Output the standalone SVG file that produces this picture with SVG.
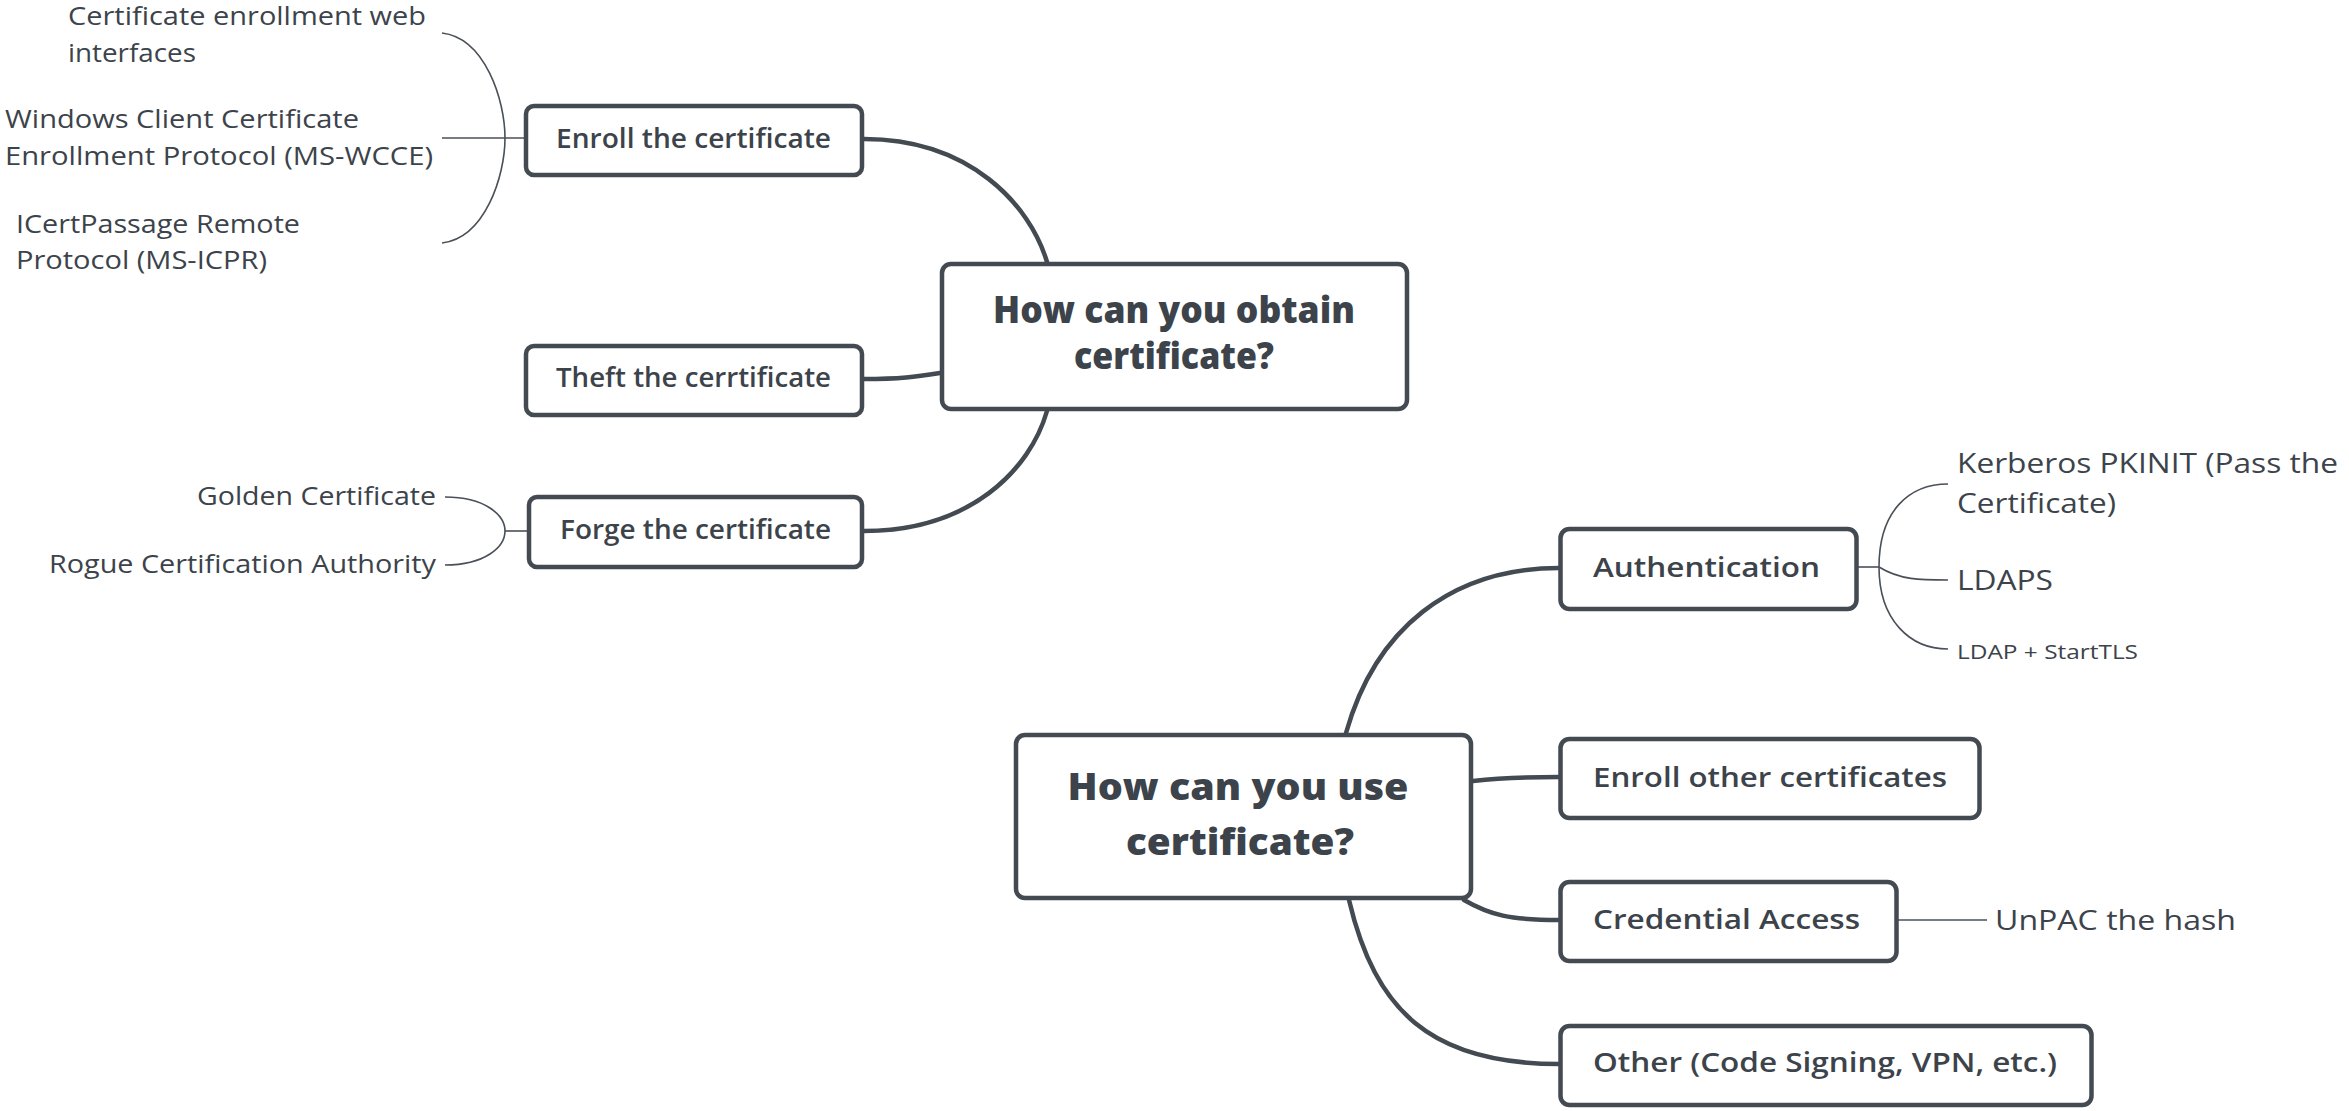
<svg xmlns="http://www.w3.org/2000/svg" width="2349" height="1111" viewBox="0 0 2349 1111">
<style>
.bg{fill:#ffffff}
.box{fill:#ffffff;stroke:#434a52;stroke-width:4.5}
.t{font-family:"Open Sans","Noto Sans","DejaVu Sans",sans-serif;fill:#3c434b}
.node{font-size:27px;font-weight:600}
.central{font-size:37px;font-weight:800}
.leaf{font-size:25px;font-weight:400}
.leafb{font-size:27px;font-weight:400}
.leafs{font-size:20px;font-weight:400}
.conn{fill:none;stroke:#434a52;stroke-width:4.5;stroke-linecap:round}
.thin{fill:none;stroke:#4a5058;stroke-width:1.6}
</style>
<rect class="bg" x="0" y="0" width="2349" height="1111"/>
<g id="connectors">
<path class="conn" d="M864,139 C970,139 1030,205 1047,262"/>
<path class="conn" d="M864,379 C900,379 915,377 940,373"/>
<path class="conn" d="M864,531 C970,531 1030,470 1047,411"/>
<path class="conn" d="M1346,733 C1375,630 1450,568 1559,568"/>
<path class="conn" d="M1473,781 C1500,778 1520,777 1559,777"/>
<path class="conn" d="M1464,900 C1490,915 1510,920 1559,920"/>
<path class="conn" d="M1349,900 C1375,1010 1430,1064 1559,1064"/>
<path class="thin" d="M442,138 L524,138"/>
<path class="thin" d="M442,33 C485,38 505,100 505,138 C505,176 485,238 442,243"/>
<path class="thin" d="M505,531 L527,531"/>
<path class="thin" d="M445,497 C485,497 505,515 505,531 C505,547 485,565 445,565"/>
<path class="thin" d="M1858,567 L1879,567"/>
<path class="thin" d="M1948,484 C1910,484 1879,510 1879,567 C1879,620 1910,649 1948,649"/>
<path class="thin" d="M1879,567 C1900,580 1920,580 1948,580"/>
<path class="thin" d="M1898,920 L1987,920"/>
</g>
<g id="node-obtain">
<rect class="box" x="942" y="264" width="465" height="145" rx="9"/>
<text class="t central" x="1174" y="323" text-anchor="middle" textLength="362" lengthAdjust="spacingAndGlyphs">How can you obtain</text>
<text class="t central" x="1174" y="369" text-anchor="middle" textLength="200" lengthAdjust="spacingAndGlyphs">certificate?</text>
</g>
<g id="node-enroll">
<rect class="box" x="526" y="106" width="336" height="69" rx="8"/>
<text class="t node" x="556" y="148" textLength="275" lengthAdjust="spacingAndGlyphs">Enroll the certificate</text>
</g>
<g id="node-theft">
<rect class="box" x="526" y="346" width="336" height="69" rx="8"/>
<text class="t node" x="556" y="387" textLength="275" lengthAdjust="spacingAndGlyphs">Theft the cerrtificate</text>
</g>
<g id="node-forge">
<rect class="box" x="529" y="497" width="333" height="70" rx="8"/>
<text class="t node" x="560" y="539" textLength="271" lengthAdjust="spacingAndGlyphs">Forge the certificate</text>
</g>
<g id="leaf-web">
<text class="t leaf" x="68" y="25" textLength="358" lengthAdjust="spacingAndGlyphs">Certificate enrollment web</text>
<text class="t leaf" x="68" y="62" textLength="128" lengthAdjust="spacingAndGlyphs">interfaces</text>
</g>
<g id="leaf-wcce">
<text class="t leaf" x="5" y="128" textLength="354" lengthAdjust="spacingAndGlyphs">Windows Client Certificate</text>
<text class="t leaf" x="5" y="165" textLength="428" lengthAdjust="spacingAndGlyphs">Enrollment Protocol (MS-WCCE)</text>
</g>
<g id="leaf-icpr">
<text class="t leaf" x="16" y="233" textLength="284" lengthAdjust="spacingAndGlyphs">ICertPassage Remote</text>
<text class="t leaf" x="16" y="269" textLength="251" lengthAdjust="spacingAndGlyphs">Protocol (MS-ICPR)</text>
</g>
<g id="leaf-golden">
<text class="t leaf" x="197" y="505" textLength="239" lengthAdjust="spacingAndGlyphs">Golden Certificate</text>
</g>
<g id="leaf-rogue">
<text class="t leaf" x="49" y="573" textLength="387" lengthAdjust="spacingAndGlyphs">Rogue Certification Authority</text>
</g>
<g id="node-use">
<rect class="box" x="1016" y="735" width="455" height="163" rx="9"/>
<text class="t central" x="1238" y="800" text-anchor="middle" textLength="341" lengthAdjust="spacingAndGlyphs">How can you use</text>
<text class="t central" x="1240" y="855" text-anchor="middle" textLength="228" lengthAdjust="spacingAndGlyphs">certificate?</text>
</g>
<g id="node-auth">
<rect class="box" x="1560.5" y="529" width="296" height="80" rx="9"/>
<text class="t node" x="1593" y="577" textLength="227" lengthAdjust="spacingAndGlyphs">Authentication</text>
</g>
<g id="node-enroll-other">
<rect class="box" x="1560.5" y="739" width="419" height="79" rx="9"/>
<text class="t node" x="1593" y="787" textLength="354" lengthAdjust="spacingAndGlyphs">Enroll other certificates</text>
</g>
<g id="node-credential">
<rect class="box" x="1560.5" y="882" width="336" height="79" rx="9"/>
<text class="t node" x="1593" y="929" textLength="267" lengthAdjust="spacingAndGlyphs">Credential Access</text>
</g>
<g id="node-other">
<rect class="box" x="1560.5" y="1026" width="531" height="79" rx="9"/>
<text class="t node" x="1593" y="1072" textLength="464" lengthAdjust="spacingAndGlyphs">Other (Code Signing, VPN, etc.)</text>
</g>
<g id="leaf-pkinit">
<text class="t leafb" x="1957" y="473" textLength="381" lengthAdjust="spacingAndGlyphs">Kerberos PKINIT (Pass the</text>
<text class="t leafb" x="1957" y="513" textLength="159" lengthAdjust="spacingAndGlyphs">Certificate)</text>
</g>
<g id="leaf-ldaps">
<text class="t leafb" x="1957" y="590" textLength="96" lengthAdjust="spacingAndGlyphs">LDAPS</text>
</g>
<g id="leaf-starttls">
<text class="t leafs" x="1957" y="659" textLength="181" lengthAdjust="spacingAndGlyphs">LDAP + StartTLS</text>
</g>
<g id="leaf-unpac">
<text class="t leafb" x="1995" y="930" textLength="241" lengthAdjust="spacingAndGlyphs">UnPAC the hash</text>
</g>
</svg>
